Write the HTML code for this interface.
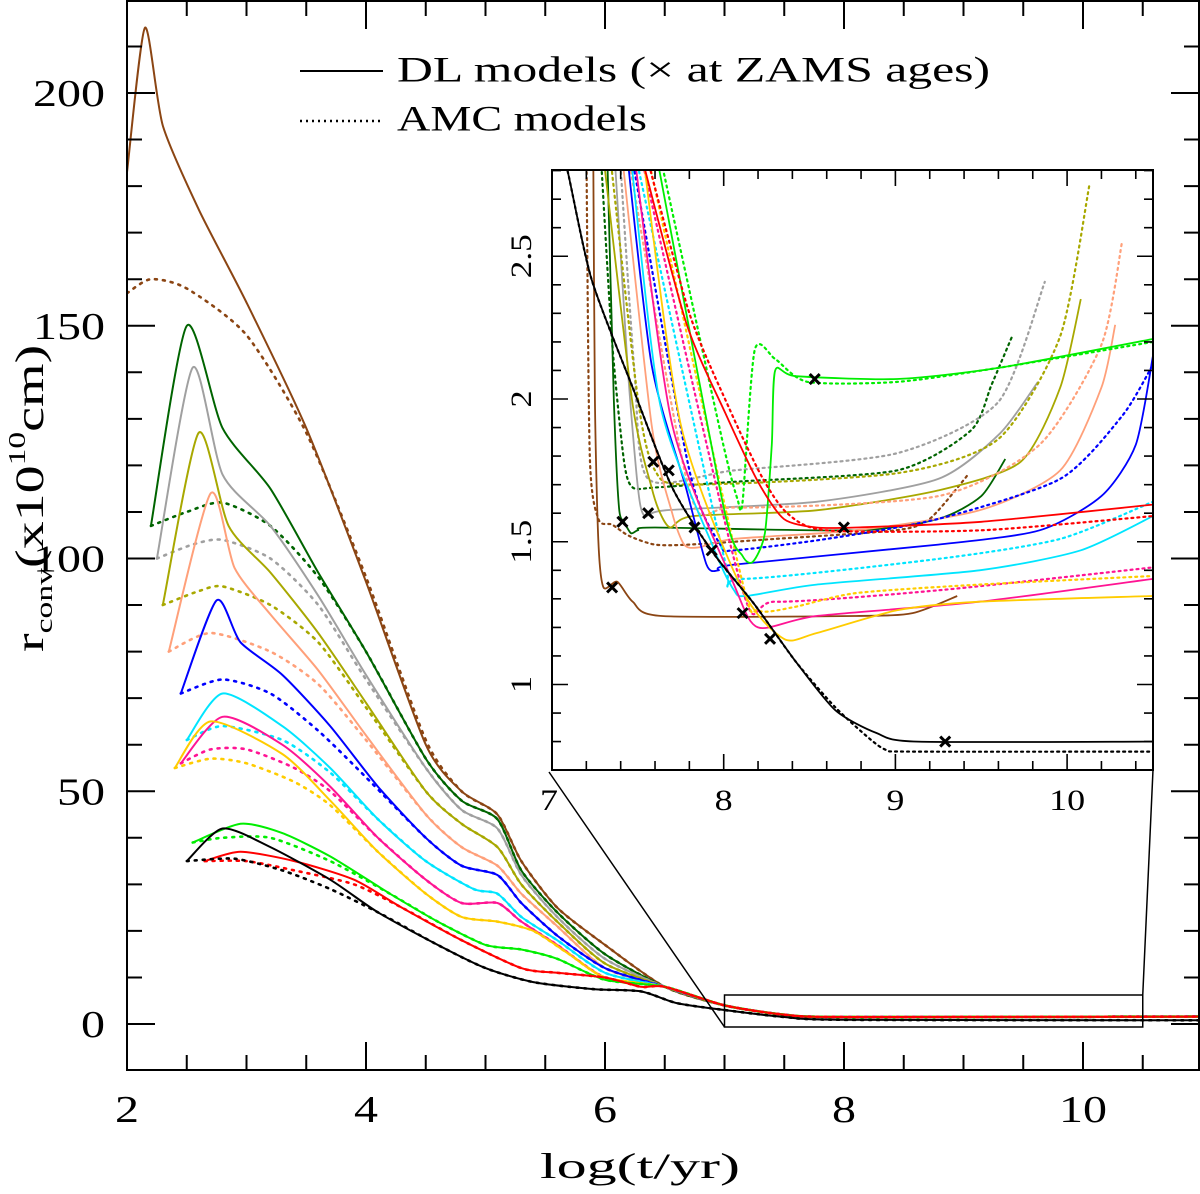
<!DOCTYPE html>
<html><head><meta charset="utf-8"><style>
html,body{margin:0;padding:0;background:#fff;}
svg{display:block;font-family:"Liberation Serif",serif;}
</style></head><body>
<svg id="chart" width="1200" height="1194" viewBox="0 0 1200 1194" xmlns="http://www.w3.org/2000/svg">
<defs>
<clipPath id="mainClip"><rect x="127" y="1" width="1072" height="1069"/></clipPath>
<clipPath id="insetClip"><rect x="552" y="170" width="601" height="600"/></clipPath>
</defs>
<rect x="0" y="0" width="1200" height="1194" fill="#fff"/>
<g id="mainCurves" clip-path="url(#mainClip)"></g>
<g id="mainAxes"></g>
<rect x="552" y="170" width="601" height="600" fill="#fff"/>
<g id="insetCurves" clip-path="url(#insetClip)"></g>
<g id="insetAxes"></g>
<g>
<line x1="300" y1="71" x2="383" y2="71" stroke="#000" stroke-width="2"/>
<text x="397" y="73" font-size="36" dominant-baseline="middle" textLength="593" lengthAdjust="spacingAndGlyphs">DL models (× at ZAMS ages)</text>
<line x1="300" y1="121" x2="383" y2="121" stroke="#000" stroke-width="2.5" stroke-dasharray="2,4"/>
<text x="397" y="122" font-size="36" dominant-baseline="middle" textLength="250" lengthAdjust="spacingAndGlyphs">AMC models</text>
</g>
<text x="540" y="1178" font-size="36" textLength="200" lengthAdjust="spacingAndGlyphs">log(t/yr)</text>
<text transform="translate(43,652) rotate(-90) scale(1.4,1)" font-size="40">r<tspan font-size="24" dy="9">conv</tspan><tspan dy="-9">(x10</tspan><tspan font-size="24" dy="-18">10</tspan><tspan dy="18">cm)</tspan></text>
</svg>
<script>
const NS="http://www.w3.org/2000/svg";
// ---- data ----
const modelNames=["brown","darkgreen","gray","olive","salmon","blue","cyan","pink","gold","lime","red","black"];
const modelColors=["#8b4513","#006400","#a0a0a0","#a8a800","#ffa07a","#0000ff","#00e5ff","#ff1493","#ffcc00","#00ee00","#ff0000","#000000"];
const mainTail=[[6.5,8],[7,4],[7.5,2],[8,1.5],[11,1.6]];
const blackTail=[[6.6,4.5],[7,3],[7.5,1.5],[8,0.9],[11,0.8]];
const brownMainSolid=[[2.0,183],[2.15,214],[2.3,193],[2.6,175],[3.0,155],[3.5,128],[4.0,95],[4.5,60],[4.8,50],[5.1,45],[5.3,35],[5.6,25],[6.0,17]];
const brownMainDot=[[2.0,157],[2.2,160],[2.5,158],[3.0,148],[3.5,127],[4.0,96],[4.5,61],[4.8,50],[5.1,45],[5.3,35],[5.6,25],[6.0,17]];
const dgreenMainSolid=[[2.2,107],[2.5,150],[2.8,128],[3.2,115],[3.6,97],[4.0,80],[4.5,57],[4.8,48],[5.1,44],[5.3,33],[5.6,24],[6.0,15]];
const dgreenMainDot=[[2.2,107],[2.5,110],[2.8,112],[3.2,107],[3.6,96],[4.0,80],[4.5,57],[4.8,48],[5.1,44],[5.3,33],[5.6,24],[6.0,15]];
const grayMainSolid=[[2.25,100],[2.55,141],[2.8,118],[3.2,107],[3.6,92],[4.0,75],[4.5,55],[4.8,46],[5.1,42],[5.3,32],[5.6,23],[6.0,14]];
const grayMainDot=[[2.25,100],[2.55,103],[2.8,104],[3.2,100],[3.6,90],[4.0,74],[4.5,55],[4.8,46],[5.1,42],[5.3,32],[5.6,23],[6.0,14]];
const oliveMainSolid=[[2.3,90],[2.6,127],[2.85,107],[3.2,97],[3.6,84],[4.0,69],[4.5,50],[4.8,43],[5.1,38],[5.3,30],[5.6,22],[6.0,13]];
const oliveMainDot=[[2.3,90],[2.6,93],[2.8,94],[3.2,90],[3.6,82],[4.0,68],[4.5,50],[4.8,43],[5.1,38],[5.3,30],[5.6,22],[6.0,13]];
const salmonMainSolid=[[2.35,80],[2.7,114],[2.9,98],[3.2,88],[3.6,76],[4.0,62],[4.5,45],[4.8,38],[5.1,34],[5.3,28],[5.6,21],[6.0,12]];
const salmonMainDot=[[2.35,80],[2.7,84],[3.2,80],[3.6,73],[4.0,61],[4.5,45],[4.8,38],[5.1,34],[5.3,28],[5.6,21],[6.0,12]];
const blueMainSolid=[[2.45,71],[2.75,91],[2.95,82],[3.3,75],[3.7,64],[4.1,51],[4.5,40],[4.8,34],[5.1,32],[5.3,26],[5.6,19],[6.0,12]];
const blueMainDot=[[2.45,71],[2.8,74],[3.2,71],[3.6,63],[4.0,53],[4.5,40],[4.8,34],[5.1,32],[5.3,26],[5.6,19],[6.0,12]];
const cyanMainSolid=[[2.5,61],[2.8,71],[3.3,64],[3.7,55],[4.1,44],[4.5,35],[4.9,29],[5.1,28],[5.3,23],[5.6,18],[6.0,11]];
const cyanMainDot=[[2.5,61],[2.8,64],[3.3,61],[3.7,54],[4.1,44],[4.5,35],[4.9,29],[5.1,28],[5.3,23],[5.6,18],[6.0,11]];
const pinkMainSolid=[[2.45,56],[2.8,66],[3.3,60],[3.7,51],[4.1,40],[4.5,31],[4.8,26],[5.1,26],[5.3,22],[5.6,17],[6.0,10]];
const pinkMainDot=[[2.45,56],[2.7,59],[3.0,59],[3.4,55],[3.7,50],[4.1,40],[4.5,31],[4.8,26],[5.1,26],[5.3,22],[5.6,17],[6.0,10]];
const goldMainSolid=[[2.4,55],[2.7,65],[3.3,58],[3.7,48],[4.1,37],[4.5,28],[4.8,23],[5.1,22],[5.4,20],[5.7,15],[6.0,10]];
const goldMainDot=[[2.4,55],[2.7,57],[3.0,56],[3.4,52],[3.7,47],[4.1,37],[4.5,28],[4.8,23],[5.1,22],[5.4,20],[5.7,15],[6.0,10]];
const limeMainSolid=[[2.55,39],[2.95,43],[3.3,41],[3.7,36],[4.2,28],[4.6,22],[5.0,17],[5.3,16],[5.6,14],[6.0,9.5]];
const limeMainDot=[[2.55,39],[2.8,40],[3.2,40],[3.7,35],[4.2,28],[4.6,22],[5.0,17],[5.3,16],[5.6,14],[6.0,9.5]];
const redMainSolid=[[2.65,35],[2.95,37],[3.4,35],[3.9,31],[4.3,25],[4.8,18],[5.3,12],[5.6,11],[6.0,10],[6.3,8]];
const redMainDot=[[2.65,35],[3.0,35],[3.4,33],[3.9,30],[4.3,25],[4.8,18],[5.3,12],[5.6,11],[6.0,10],[6.3,8]];
const blackMainSolid=[[2.5,35],[2.8,42],[3.2,38],[3.7,31],[4.1,24],[4.6,17],[5.0,12],[5.4,9],[5.9,7.5],[6.3,7]];
const blackMainDot=[[2.5,35],[2.9,35.5],[3.3,33],[3.7,29],[4.1,24],[4.6,17],[5.0,12],[5.4,9],[5.9,7.5],[6.3,7]];

const brownInsetSolid=[[7.24,2.9],[7.25,2.0],[7.27,1.5],[7.30,1.34],[7.38,1.36],[7.47,1.29],[7.64,1.24],[8.77,1.24],[9.1,1.25],[9.36,1.31]];
const brownInsetDot=[[7.20,2.9],[7.22,1.8],[7.27,1.58],[7.35,1.56],[7.45,1.52],[7.6,1.49],[7.8,1.49],[8.3,1.51],[9.0,1.54],[9.2,1.58],[9.43,1.74]];
const dgreenInsetSolid=[[7.32,2.9],[7.36,2.0],[7.39,1.62],[7.42,1.57],[7.46,1.53],[7.5,1.54],[7.6,1.55],[8.77,1.54],[9.25,1.58],[9.5,1.66],[9.64,1.79]];
const dgreenInsetDot=[[7.28,2.9],[7.35,2.2],[7.42,1.78],[7.47,1.69],[7.6,1.69],[8.06,1.71],[9.01,1.75],[9.44,1.89],[9.56,2.05],[9.68,2.22]];
const grayInsetSolid=[[7.36,2.9],[7.44,2.12],[7.50,1.69],[7.54,1.59],[7.66,1.61],[8.54,1.64],[9.25,1.72],[9.61,1.88],[9.83,2.06]];
const grayInsetDot=[[7.39,2.9],[7.48,2.1],[7.56,1.72],[8.06,1.75],[9.01,1.81],[9.6,1.99],[9.87,2.41]];
const oliveInsetSolid=[[7.29,2.9],[7.47,1.98],[7.58,1.69],[7.63,1.60],[7.69,1.55],[7.82,1.59],[8.54,1.61],[9.25,1.68],[9.73,1.78],[9.96,2.04],[10.08,2.35]];
const oliveInsetDot=[[7.33,2.9],[7.5,2.0],[7.6,1.75],[7.8,1.70],[9.01,1.74],[9.6,1.86],[9.96,2.22],[10.13,2.75]];
const salmonInsetSolid=[[7.40,2.9],[7.58,1.91],[7.70,1.60],[7.77,1.49],[7.85,1.48],[8.06,1.51],[8.77,1.54],[9.49,1.61],[9.96,1.75],[10.2,2.04],[10.28,2.26]];
const salmonInsetDot=[[7.43,2.9],[7.8,1.68],[8.06,1.62],[9.25,1.66],[9.84,1.84],[10.2,2.19],[10.32,2.55]];
const blueInsetSolid=[[7.43,2.9],[7.58,2.12],[7.78,1.69],[7.90,1.42],[7.97,1.40],[8.06,1.42],[9.25,1.49],[9.84,1.54],[10.2,1.66],[10.4,1.84],[10.5,2.15]];
const blueInsetDot=[[7.45,2.9],[7.8,1.75],[7.98,1.49],[8.06,1.47],[8.6,1.51],[9.25,1.58],[9.96,1.72],[10.32,1.94],[10.5,2.12]];
const cyanInsetSolid=[[7.45,2.9],[7.63,1.98],[7.94,1.48],[8.06,1.33],[8.13,1.31],[8.54,1.35],[9.49,1.40],[10.08,1.47],[10.5,1.59]];
const cyanInsetDot=[[7.47,2.9],[8.0,1.45],[8.1,1.37],[9.25,1.44],[9.96,1.51],[10.5,1.64]];
const pinkInsetSolid=[[7.47,2.9],[7.70,1.91],[8.06,1.35],[8.2,1.20],[8.54,1.24],[9.49,1.29],[10.5,1.37]];
const pinkInsetDot=[[7.5,2.9],[8.1,1.35],[8.3,1.29],[9.25,1.33],[10.5,1.41]];
const goldInsetSolid=[[7.52,2.9],[7.75,1.91],[8.11,1.33],[8.35,1.16],[8.54,1.18],[9.01,1.26],[9.49,1.29],[10.5,1.31]];
const goldInsetDot=[[7.54,2.9],[8.1,1.38],[8.2,1.26],[8.4,1.27],[8.77,1.32],[9.49,1.35],[10.5,1.38]];
const limeInsetSolid=[[7.61,2.85],[8.0,1.62],[8.11,1.45],[8.17,1.43],[8.24,1.53],[8.28,1.84],[8.30,2.10],[8.42,2.08],[9.01,2.07],[9.61,2.11],[10.5,2.21]];
const limeInsetDot=[[7.63,2.85],[7.99,1.86],[8.08,1.65],[8.11,1.64],[8.18,2.17],[8.30,2.14],[8.49,2.06],[9.01,2.06],[9.61,2.11],[10.5,2.20]];
const redInsetSolid=[[7.50,2.9],[7.78,2.27],[8.01,1.95],[8.20,1.71],[8.35,1.58],[8.54,1.55],[8.77,1.55],[9.5,1.57],[10.5,1.63]];
const redInsetDot=[[7.53,2.9],[7.8,2.3],[8.03,1.97],[8.22,1.73],[8.37,1.60],[8.6,1.54],[9.5,1.54],[10.5,1.59]];
const blackInsetSolid=[[7.0,3.0],[7.09,2.8],[7.23,2.42],[7.47,2.04],[7.70,1.69],[7.94,1.46],[8.18,1.28],[8.42,1.08],[8.65,0.91],[8.89,0.83],[9.13,0.80],[10.5,0.80]];
const blackInsetDot=[[7.0,3.0],[7.09,2.8],[7.23,2.42],[7.47,2.04],[7.70,1.69],[7.94,1.46],[8.18,1.28],[8.42,1.08],[8.65,0.92],[8.85,0.81],[8.95,0.77],[9.1,0.765],[10.5,0.765]];
const zamsT=[7.59,7.68,7.56,7.41,7.35,7.83,7.93,8.11,8.27,8.53,8.70,9.29];
const zamsR=[1.78,1.75,1.60,1.57,1.34,1.55,1.47,1.25,1.16,2.07,1.55,0.80];
const mainXTicks=[2,4,6,8,10];
const mainYTicks=[0,50,100,150,200];
const insetXTicks=[7,8,9,10];
const insetYTicks=["1","1.5","2","2.5"];

const mainSolid=[brownMainSolid,dgreenMainSolid,grayMainSolid,oliveMainSolid,salmonMainSolid,blueMainSolid,cyanMainSolid,pinkMainSolid,goldMainSolid,limeMainSolid,redMainSolid,blackMainSolid];
const mainDot=[brownMainDot,dgreenMainDot,grayMainDot,oliveMainDot,salmonMainDot,blueMainDot,cyanMainDot,pinkMainDot,goldMainDot,limeMainDot,redMainDot,blackMainDot];
const insetSolid=[brownInsetSolid,dgreenInsetSolid,grayInsetSolid,oliveInsetSolid,salmonInsetSolid,blueInsetSolid,cyanInsetSolid,pinkInsetSolid,goldInsetSolid,limeInsetSolid,redInsetSolid,blackInsetSolid];
const insetDot=[brownInsetDot,dgreenInsetDot,grayInsetDot,oliveInsetDot,salmonInsetDot,blueInsetDot,cyanInsetDot,pinkInsetDot,goldInsetDot,limeInsetDot,redInsetDot,blackInsetDot];

// ---- scales ----
const mx=t=>127+(t-2)*119.5, my=r=>1024-r*4.655;
const ix=t=>552+(t-7)*171.7, iy=r=>399-(r-2)*285.5;

function mk(tag,attrs,parent){const e=document.createElementNS(NS,tag);for(const k in attrs)e.setAttribute(k,attrs[k]);parent.appendChild(e);return e;}
function pathD(pts,fx,fy){
  const P=pts.map(p=>[fx(p[0]),fy(p[1])]);
  let d="M"+P[0][0].toFixed(1)+","+P[0][1].toFixed(1);
  for(let i=0;i<P.length-1;i++){
    const p0=P[Math.max(0,i-1)],p1=P[i],p2=P[i+1],p3=P[Math.min(P.length-1,i+2)];
    const k=0.12;
    const c1=[p1[0]+(p2[0]-p0[0])*k,p1[1]+(p2[1]-p0[1])*k];
    const c2=[p2[0]-(p3[0]-p1[0])*k,p2[1]-(p3[1]-p1[1])*k];
    d+=`C${c1[0].toFixed(1)},${c1[1].toFixed(1)} ${c2[0].toFixed(1)},${c2[1].toFixed(1)} ${p2[0].toFixed(1)},${p2[1].toFixed(1)}`;
  }
  return d;
}

const gm=document.getElementById("mainCurves");
const gi=document.getElementById("insetCurves");
for(let i=0;i<modelNames.length;i++){
  const tail=modelNames[i]==="black"?blackTail:mainTail;
  let e=mk("path",{d:pathD(mainDot[i].concat(tail),mx,my),fill:"none",stroke:modelColors[i],"stroke-width":2.6,"stroke-dasharray":"2,6","stroke-linecap":"round","stroke-linejoin":"round"},gm);
  
  
  e=mk("path",{d:pathD(mainSolid[i].concat(tail),mx,my),fill:"none",stroke:modelColors[i],"stroke-width":2,"stroke-linejoin":"round"},gm);
  
  
  e=mk("path",{d:pathD(insetDot[i],ix,iy),fill:"none",stroke:modelColors[i],"stroke-width":2.2,"stroke-dasharray":"2,4","stroke-linecap":"round","stroke-linejoin":"round"},gi);
  
  
  e=mk("path",{d:pathD(insetSolid[i],ix,iy),fill:"none",stroke:modelColors[i],"stroke-width":1.8,"stroke-linejoin":"round"},gi);
  
  
}
for(let i=0;i<zamsT.length;i++){
  const x=ix(zamsT[i]),y=iy(zamsR[i]),s=5;
  const e=mk("path",{d:`M${x-s},${y-s}L${x+s},${y+s}M${x-s},${y+s}L${x+s},${y-s}`,stroke:"#000","stroke-width":3},gi);
  
  
}

// ---- main axes ----
const ga=document.getElementById("mainAxes");
let fr=mk("rect",{x:127,y:1,width:1072,height:1069,fill:"none",stroke:"#000","stroke-width":2},ga);

let tk="";
for(let t=2;t<=11.001;t+=0.5){const x=mx(t);const L=(Math.abs(t/2-Math.round(t/2))<1e-6)?28:15;tk+=`M${x},1070v${-L}M${x},1v${L}`;}
for(let r=-10;r<=220;r+=10){const y=my(r);if(y<1||y>1070)continue;const L=(r%50===0)?28:15;tk+=`M127,${y}h${L}M1199,${y}h${-L}`;}
let tp=mk("path",{d:tk,stroke:"#000","stroke-width":2},ga);

for(const t of mainXTicks){const s=String(t);const w=s.length*24;
  const e=mk("text",{x:mx(t)-w/2,y:1122,"font-size":38,textLength:w,lengthAdjust:"spacingAndGlyphs"},ga);e.textContent=s;
  }
for(const r of mainYTicks){const s=String(r);const w=s.length*24;
  const e=mk("text",{x:105-w,y:my(r)+13,"font-size":38,textLength:w,lengthAdjust:"spacingAndGlyphs"},ga);e.textContent=s;
  }
// zoom box and connectors
let zb=mk("rect",{x:mx(7),y:995,width:mx(10.5)-mx(7),height:32,fill:"none",stroke:"#000","stroke-width":1.5},ga);

let cl=mk("path",{d:`M${ix(7)-3},772L${mx(7)},1027M1153,770L${mx(10.5)},995`,stroke:"#000","stroke-width":1.5,fill:"none"},ga);


// ---- inset axes ----
const gx=document.getElementById("insetAxes");
let ifr=mk("rect",{x:552,y:170,width:601,height:600,fill:"none",stroke:"#000","stroke-width":2},gx);

tk="";
for(let k=0;k<=17;k++){const t=7+k*0.2;const x=ix(t);const L=(k%5===0)?16:9;tk+=`M${x},770v${-L}M${x},170v${L}`;}
for(let k=7;k<=28;k++){const r=k/10;const y=iy(r);if(y<170||y>770)continue;const L=(k%5===0)?16:9;tk+=`M552,${y}h${L}M1153,${y}h${-L}`;}
let itp=mk("path",{d:tk,stroke:"#000","stroke-width":1.6},gx);

for(const t of insetXTicks){const s=String(t);const w=s.length*18;
  const e=mk("text",{x:ix(t)-w/2+(t===7?-3:0),y:810,"font-size":30,textLength:w,lengthAdjust:"spacingAndGlyphs"},gx);e.textContent=s;
  }
for(const s of insetYTicks){const y=iy(parseFloat(s));const w=s.length===1?17:44;
  const e=mk("text",{transform:`translate(531,${y+w/2}) rotate(-90)`,"font-size":30,textLength:w,lengthAdjust:"spacingAndGlyphs"},gx);e.textContent=s;
  }
</script>
</body></html>
